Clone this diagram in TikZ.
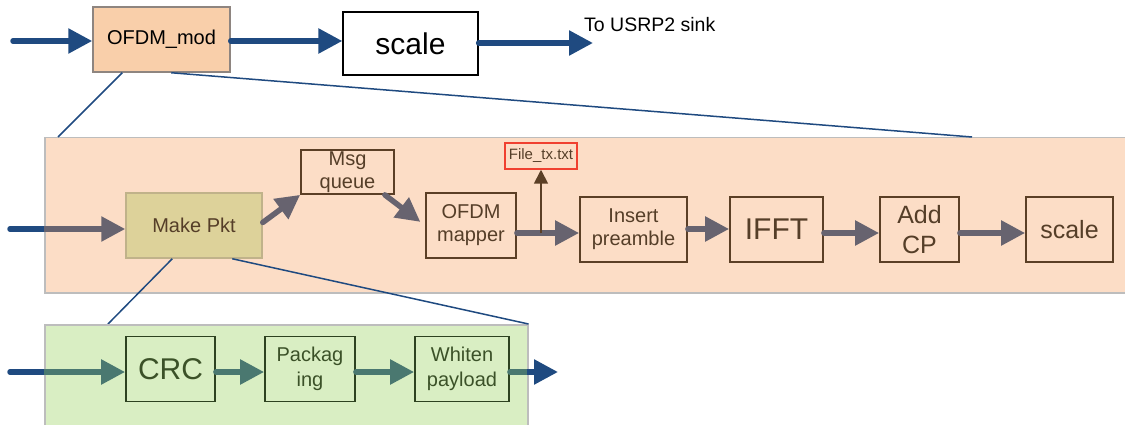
\documentclass[tikz,border=0pt]{standalone}
\usepackage{fontspec}
\setmainfont{Liberation Sans}
\usetikzlibrary{arrows.meta}
\definecolor{bluec}{HTML}{1F4A80}
\definecolor{peach}{HTML}{FCDDC6}
\definecolor{panelborder}{HTML}{BDBDBD}
\definecolor{modfill}{HTML}{F9CFAA}
\definecolor{modborder}{HTML}{8E8580}
\definecolor{brownb}{HTML}{5B3F26}
\definecolor{brownt}{HTML}{553E28}
\definecolor{pktfill}{HTML}{DDD29A}
\definecolor{pktborder}{HTML}{C0B28A}
\definecolor{grayarr}{HTML}{67636F}
\definecolor{greenp}{HTML}{D9EEC3}
\definecolor{greenb}{HTML}{2D4220}
\definecolor{greent}{HTML}{3B5128}
\definecolor{greenarr}{HTML}{4A7870}
\definecolor{redb}{HTML}{F04030}
\newcommand\myfs[2]{\fontsize{#1}{#2}\selectfont}
\begin{document}
\begin{tikzpicture}[x=1pt,y=-1pt,
  bigarrow/.style={line width=5.5pt, line cap=round, -{Triangle[length=24pt,width=24pt]}},
  plainline/.style={line width=5.5pt, line cap=round},
  zoomline/.style={draw=bluec, line width=1.5pt},
  pbox/.style={draw=brownb, line width=1.8pt, inner sep=0pt, align=center, text=brownt},
  gbox/.style={draw=greenb, line width=1.8pt, inner sep=0pt, align=center, text=greent},
  panelbox/.style={draw=panelborder, line width=1.5pt, inner sep=0pt, anchor=north west}]
\useasboundingbox (0,0) rectangle (1125,425);

% ---------- top row ----------
\node[draw=modborder, fill=modfill, line width=1.5pt, inner sep=0pt, font=\myfs{20}{24},
  minimum width=137pt, minimum height=65pt] (ofdmmod) at (161.5,39.5) {OFDM\_mod};
\node[draw=black, fill=white, line width=1.3pt, inner sep=0pt, font=\myfs{30}{34},
  minimum width=135pt, minimum height=63pt] (topscale) at (410.5,43.5) {scale};
\node[anchor=base west, inner sep=0pt, font=\myfs{19.5}{23}] (usrp) at (584,32) {To USRP2 sink};
\coordinate (tin) at (13,41);
\coordinate (tout) at (593,43);
\draw[bigarrow, bluec] (tin) -- (tin -| ofdmmod.west);
\draw[bigarrow, bluec] (ofdmmod.east |- tin) -- (topscale.west |- tin);
\draw[bigarrow, bluec] (topscale.east |- tout) -- (tout);

% ---------- peach panel ----------
\node[panelbox, fill=peach, minimum width=1090pt, minimum height=155pt] (panel) at (44,137) {};
\draw[zoomline] ([xshift=30pt]ofdmmod.south west) -- ([xshift=14pt]panel.north west);
\draw[zoomline] ([xshift=79pt]ofdmmod.south west) -- ([xshift=928pt]panel.north west);

\node[draw=pktborder, fill=pktfill, line width=1.5pt, inner sep=0pt, text=brownt, font=\myfs{20}{23},
  minimum width=136pt, minimum height=65pt] (makepkt) at (194,225.5) {Make Pkt};
\node[pbox, font=\myfs{20}{23}, minimum width=93pt, minimum height=44pt] (msgq) at (347.5,172) {Msg\\queue};
\node[pbox, font=\myfs{20}{23}, minimum width=90pt, minimum height=65pt] (mapper) at (471,225.5) {OFDM\\mapper};
\node[draw=redb, line width=1.5pt, inner sep=0pt, text=brownt, font=\myfs{15}{18},
  minimum width=72pt, minimum height=26pt] (filetx) at (541,156) {File\_tx.txt};
\node[pbox, font=\myfs{20}{23}, minimum width=107pt, minimum height=65pt] (insert) at (633.5,229.5) {Insert\\preamble};
\node[pbox, font=\myfs{30}{34}, minimum width=93pt, minimum height=65pt] (ifft) at (776.5,229.5) {IFFT};
\node[pbox, font=\myfs{25}{30}, minimum width=79pt, minimum height=65pt] (addcp) at (919.5,229.5) {Add\\CP};
\node[pbox, font=\myfs{25}{30}, minimum width=87pt, minimum height=65pt] (pscale) at (1069.5,229.5) {scale};

\coordinate (pin) at (10,229);
\coordinate (ya) at (0,233);
\coordinate (yb) at (0,229);
\draw[plainline, bluec] (pin) -- (pin -| panel.west);
\draw[bigarrow, grayarr, line cap=butt] (pin -| panel.west) -- (pin -| makepkt.west);
\draw[bigarrow, grayarr] ([yshift=3pt]makepkt.east) -- (msgq.south west);
\draw[bigarrow, grayarr, shorten >=6pt] ([xshift=-10pt]msgq.south east) -- (mapper.west);
\draw[bigarrow, grayarr] (mapper.east |- ya) -- (insert.west |- ya);
\draw[line width=1.8pt, brownb, -{Triangle[length=14pt,width=14pt]}] (filetx.south |- ya) -- (filetx.south);
\draw[bigarrow, grayarr] (insert.east |- yb) -- (ifft.west |- yb);
\draw[bigarrow, grayarr] (ifft.east |- ya) -- (addcp.west |- ya);
\draw[bigarrow, grayarr] (addcp.east |- ya) -- (pscale.west |- ya);

% ---------- green panel ----------
\draw[zoomline] ([xshift=47pt]makepkt.south west) -- (108,324) coordinate (gz1);
\node[panelbox, fill=greenp, minimum width=483pt, minimum height=110pt] (gpanel) at (44,324) {};
\draw[zoomline] ([xshift=107pt]makepkt.south west) -- (gpanel.north east);

\node[gbox, font=\myfs{30}{34}, minimum width=89pt, minimum height=65pt] (crc) at (170.5,369) {CRC};
\node[gbox, font=\myfs{20}{25}, minimum width=90pt, minimum height=65pt] (pack) at (310,369) {Packag\\ing};
\node[gbox, font=\myfs{20}{25}, minimum width=94pt, minimum height=65pt] (whiten) at (462,369) {Whiten\\payload};

\coordinate (gin) at (10,372);
\coordinate (gout) at (558,372);
\draw[plainline, bluec] (gin) -- (gin -| gpanel.west);
\draw[bigarrow, greenarr, line cap=butt] (gin -| gpanel.west) -- (gin -| crc.west);
\draw[bigarrow, greenarr] (crc.east |- gin) -- (pack.west |- gin);
\draw[bigarrow, greenarr] (pack.east |- gin) -- (whiten.west |- gin);
\draw[plainline, greenarr] (whiten.east |- gin) -- (gin -| gpanel.east);
\draw[bigarrow, bluec, line cap=butt] ([xshift=-2pt]gin -| gpanel.east) -- (gout);
\end{tikzpicture}
\end{document}
